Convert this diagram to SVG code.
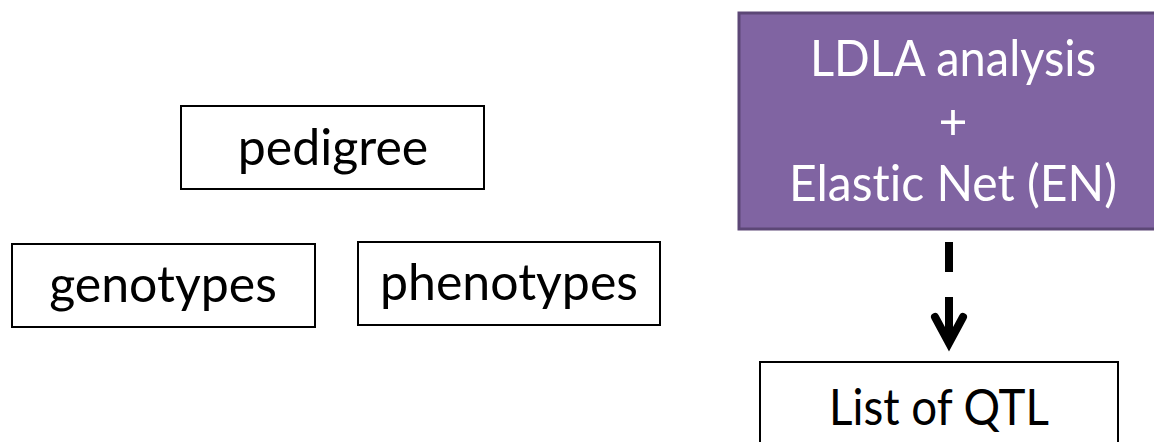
<svg xmlns="http://www.w3.org/2000/svg" width="1154" height="442" viewBox="0 0 1154 442">
  <style>
    .box { fill: #ffffff; stroke: #000000; stroke-width: 2; }
    .proc { fill: #8064A2; stroke: #5C4776; stroke-width: 3; }
    .lbl { font-family: Lato, "Open Sans", "Liberation Sans", sans-serif; font-size: 50px; fill: #000000; text-anchor: middle; font-variant-ligatures: none; }
    .lbl.w { fill: #ffffff; }
    .flow { fill: none; stroke: #000000; stroke-width: 8; stroke-dasharray: 30 25 60; }
    .head { fill: none; stroke: #000000; stroke-width: 8; stroke-linecap: round; }
  </style>
  <rect width="1154" height="442" fill="#ffffff"/>

  <g id="pedigree">
    <rect class="box" x="181" y="106" width="303" height="83"/>
    <text class="lbl" x="333" y="165">pedigree</text>
  </g>
  <g id="genotypes">
    <rect class="box" x="12" y="244" width="303" height="83"/>
    <text class="lbl" x="163" y="302">genotypes</text>
  </g>
  <g id="phenotypes">
    <rect class="box" x="358" y="242" width="302" height="83"/>
    <text class="lbl" x="509" y="300">phenotypes</text>
  </g>
  <g id="analysis">
    <rect class="proc" x="739" y="13" width="425" height="216"/>
    <text class="lbl w" x="953" y="76" textLength="286" lengthAdjust="spacingAndGlyphs">LDLA analysis</text>
    <text class="lbl w" x="953" y="139">+</text>
    <text class="lbl w" x="953" y="201" textLength="328" lengthAdjust="spacingAndGlyphs">Elastic Net (EN)</text>
  </g>
  <g id="qtl">
    <rect class="box" x="760" y="362" width="358" height="90"/>
    <text class="lbl" x="939" y="425" textLength="220" lengthAdjust="spacingAndGlyphs">List of QTL</text>
  </g>

  <g id="connectors">
    <path class="flow" d="M949 242 V343"/>
    <path class="head" d="M935 317 L949 343 L963 317"/>
  </g>
</svg>
